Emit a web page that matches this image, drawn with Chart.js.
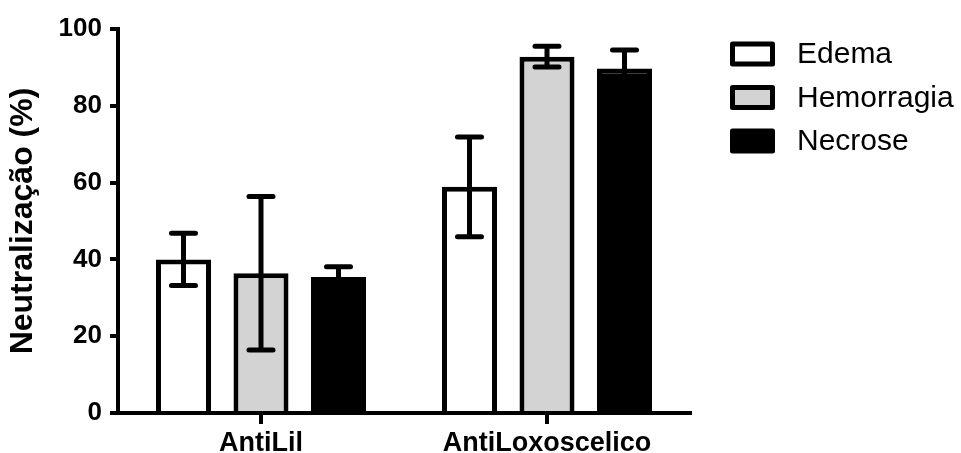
<!DOCTYPE html>
<html>
<head>
<meta charset="utf-8">
<script src="https://cdn.jsdelivr.net/npm/chart.js@4.4.1/dist/chart.umd.min.js"></script>
<style>
  html, body { margin: 0; padding: 0; background: #fff; }
  #wrap { width: 961px; height: 453px; position: relative; }
</style>
</head>
<body>
<div id="wrap"><canvas id="c"></canvas></div>
<script>
const categories = ['AntiLil', 'AntiLoxoscelico'];
const seriesNames = ['Edema', 'Hemorragia', 'Necrose'];
const edemaValues = [40.0, 58.9];
const edemaErrors = [6.8, 13.0];
const hemorragiaValues = [36.4, 92.8];
const hemorragiaErrors = [20.0, 2.7];
const necroseValues = [35.4, 89.7];
const necroseErrors = [2.7, 4.8];
const yTicks = [0, 20, 40, 60, 80, 100];

const FONT = '"Liberation Sans", Arial, sans-serif';

const errorBarPlugin = {
  id: 'errorBars',
  afterDatasetsDraw(chart) {
    const ctx = chart.ctx;
    const y = chart.scales.y;
    ctx.save();
    ctx.strokeStyle = '#000';
    ctx.lineWidth = 5;
    chart.data.datasets.forEach((ds, di) => {
      const meta = chart.getDatasetMeta(di);
      meta.data.forEach((bar, i) => {
        const v = ds.data[i];
        const e = ds.errors[i];
        const x = bar.x;
        const yt = y.getPixelForValue(v + e);
        const yb = y.getPixelForValue(v - e);
        ctx.lineCap = 'butt';
        ctx.beginPath();
        ctx.moveTo(x, yb);
        ctx.lineTo(x, yt);
        ctx.stroke();
        ctx.lineCap = 'round';
        ctx.beginPath();
        ctx.moveTo(x - 12, yt); ctx.lineTo(x + 12, yt);
        ctx.moveTo(x - 12, yb); ctx.lineTo(x + 12, yb);
        ctx.stroke();
      });
    });
    ctx.restore();
  }
};

const legendPlugin = {
  id: 'sideLegend',
  afterDraw(chart) {
    const ctx = chart.ctx;
    ctx.save();
    chart.data.datasets.forEach((ds, i) => {
      const bx = 732.5, by = 44 + i * 43.5, bw = 40, bh = 20;
      ctx.fillStyle = ds.backgroundColor;
      ctx.strokeStyle = '#000';
      ctx.lineWidth = 5;
      ctx.lineJoin = 'round';
      ctx.fillRect(bx, by, bw, bh);
      ctx.strokeRect(bx, by, bw, bh);
      ctx.fillStyle = '#000';
      ctx.font = '30px ' + FONT;
      ctx.textAlign = 'left';
      ctx.textBaseline = 'middle';
      ctx.fillText(ds.label, 797, by + bh / 2 + 1);
    });
    ctx.restore();
  }
};

new Chart(document.getElementById('c'), {
  type: 'bar',
  data: {
    labels: categories,
    datasets: [
      { label: seriesNames[0], data: edemaValues, errors: edemaErrors, backgroundColor: '#ffffff', borderColor: '#000', borderWidth: 5 },
      { label: seriesNames[1], data: hemorragiaValues, errors: hemorragiaErrors, backgroundColor: '#d3d3d3', borderColor: '#000', borderWidth: 5 },
      { label: seriesNames[2], data: necroseValues, errors: necroseErrors, backgroundColor: '#000000', borderColor: '#000', borderWidth: 5 }
    ]
  },
  options: {
    responsive: true,
    maintainAspectRatio: false,
    animation: false,
    categoryPercentage: 0.813,
    barPercentage: 0.71,
    layout: { padding: { left: 0, right: 271, top: 29, bottom: 0 } },
    plugins: {
      legend: { display: false },
      tooltip: { enabled: false }
    },
    scales: {
      x: {
        offset: true,
        grid: { display: true, drawOnChartArea: false, drawTicks: true, tickLength: 11, lineWidth: 4, color: '#000', offset: false },
        border: { display: true, color: '#000', width: 4 },
        ticks: { color: '#000', font: { family: FONT, size: 27, weight: 'bold' }, padding: 3, maxRotation: 0 },
        afterFit(scale) { scale.height = 40; }
      },
      y: {
        min: 0, max: 100,
        afterBuildTicks(scale) { scale.ticks = yTicks.map(v => ({ value: v })); },
        grid: { display: true, drawOnChartArea: false, drawTicks: true, tickLength: 8, lineWidth: 4, color: '#000' },
        border: { display: true, color: '#000', width: 4 },
        ticks: { color: '#000', font: { family: FONT, size: 26, weight: 'bold' }, padding: 8 },
        title: { display: true, text: 'Neutralização (%)', color: '#000', font: { family: FONT, size: 32, weight: 'bold' }, padding: { top: 4, bottom: 0 } },
        afterFit(scale) { scale.width = 118; }
      }
    }
  },
  plugins: [errorBarPlugin, legendPlugin]
});
</script>
</body>
</html>
